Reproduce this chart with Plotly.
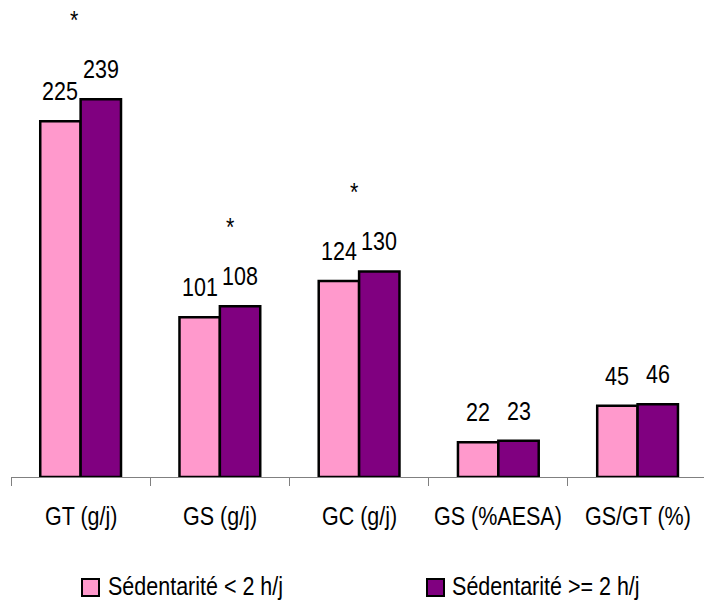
import plotly.graph_objects as go

# Apports lipidiques selon la sédentarité
categories = ["GT (g/j)", "GS (g/j)", "GC (g/j)", "GS (%AESA)", "GS/GT (%)"]
series_names = ["Sédentarité < 2 h/j", "Sédentarité >= 2 h/j"]
low_sed = [225, 101, 124, 22, 45]
high_sed = [239, 108, 130, 23, 46]
significant = [True, True, True, False, False]

colors = ["#FF99CC", "#800080"]
FONT = "Liberation Sans, Arial, sans-serif"
FS = 21.5

W, H = 704, 601
ML, MT, MB = 11, 0, 124
BARGAP = 0.42
bar_w = (1 - BARGAP) / 2

fig = go.Figure()
for name, vals, col in zip(series_names, [low_sed, high_sed], colors):
    fig.add_trace(go.Bar(
        name=name, x=categories, y=vals,
        marker=dict(color=col, line=dict(color="black", width=2.5)),
        showlegend=False,
    ))

plot_h = H - MT - MB
plot_w = W - ML
def px_to_paper_x(px):
    return (px - ML) / plot_w
def px_to_paper_y(py):
    return (H - MB - py) / plot_h

annotations = []
# value labels above each bar
for k, vals in enumerate([low_sed, high_sed]):
    off = (k - 0.5) * bar_w
    for i, v in enumerate(vals):
        annotations.append(dict(
            x=i + off, y=v, xref="x", yref="y", text=str(v),
            showarrow=False, yanchor="bottom", yshift=15,
            font=dict(family=FONT, size=FS, color="black"),
        ))

# significance markers
star_dx = [-0.045, 0.075, -0.035, 0, 0]
for i, sig in enumerate(significant):
    if sig:
        annotations.append(dict(
            x=i + star_dx[i], y=max(low_sed[i], high_sed[i]), xref="x", yref="y",
            text="*", showarrow=False, yanchor="middle", yshift=78,
            font=dict(family=FONT, size=FS, color="black"),
        ))

# category names under the axis
for i, cat in enumerate(categories):
    annotations.append(dict(
        x=i, y=px_to_paper_y(517), xref="x", yref="paper", text=cat,
        showarrow=False, yanchor="middle",
        font=dict(family=FONT, size=FS, color="black"),
    ))

# legend drawn below the axis
shapes = []
legend_items = [(82, 106), (427, 450)]
for (sx, tx), name, col in zip(legend_items, series_names, colors):
    shapes.append(dict(
        type="rect", xref="paper", yref="paper",
        x0=px_to_paper_x(sx), x1=px_to_paper_x(sx + 17),
        y0=px_to_paper_y(579), y1=px_to_paper_y(596),
        fillcolor=col, line=dict(color="black", width=2),
    ))
    annotations.append(dict(
        x=px_to_paper_x(tx), y=px_to_paper_y(587), xref="paper", yref="paper",
        text=name, showarrow=False, xanchor="left", yanchor="middle",
        font=dict(family=FONT, size=FS, color="black"),
    ))

fig.update_layout(
    width=W, height=H,
    margin=dict(l=ML, r=0, t=MT, b=MB, pad=0),
    barmode="group", bargap=BARGAP, bargroupgap=0,
    plot_bgcolor="white", paper_bgcolor="white",
    font=dict(family=FONT, size=FS, color="black"),
    xaxis=dict(
        type="category", range=[-0.5, 4.477], automargin=False,
        showline=True, linecolor="#808080", linewidth=1,
        ticks="outside", tickson="boundaries", ticklen=8, tickcolor="#808080",
        showticklabels=False, showgrid=False, zeroline=False,
    ),
    yaxis=dict(range=[0, 301.7], visible=False, showgrid=False, zeroline=False,
               automargin=False),
    annotations=annotations, shapes=shapes,
)

# narrow, tall lettering
css = (".annotation-text {transform-box: fill-box; "
       "transform-origin: center; transform: scaleY(1.2);}")
post = ("var s=document.createElement('style');s.textContent='" + css +
        "';document.head.appendChild(s);")
fig.write_html("out.html", post_script=post)
